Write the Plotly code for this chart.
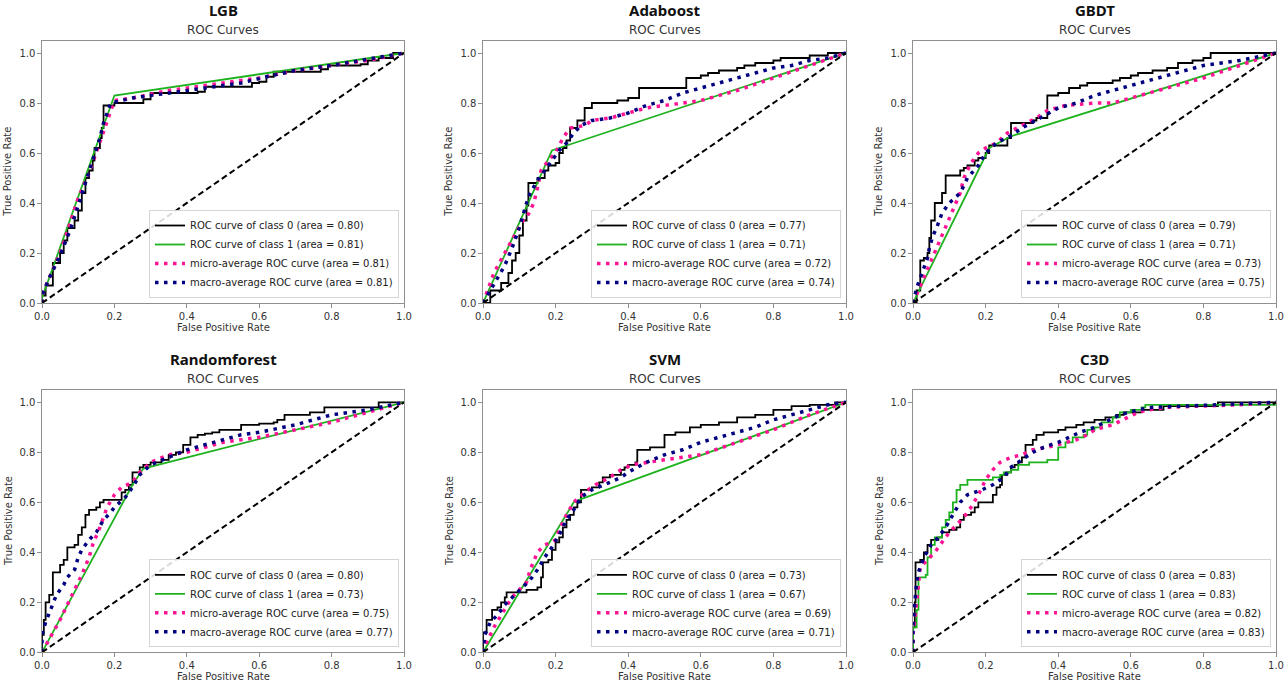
import plotly.graph_objects as go

W, H = 1288, 688

MODELS = ["LGB", "Adaboost", "GBDT", "Randomforest", "SVM", "C3D"]
AUC_CLASS0 = [0.80, 0.77, 0.79, 0.80, 0.73, 0.83]
AUC_CLASS1 = [0.81, 0.71, 0.71, 0.73, 0.67, 0.83]
AUC_MICRO = [0.81, 0.72, 0.73, 0.75, 0.69, 0.82]
AUC_MACRO = [0.81, 0.74, 0.75, 0.77, 0.71, 0.83]
AXIS_TICKS = [0.0, 0.2, 0.4, 0.6, 0.8, 1.0]

# ---------------- LGB ----------------
LGB_C0_X = [0, 0, 0.01, 0.03, 0.05, 0.06, 0.07, 0.09, 0.10, 0.11, 0.12, 0.13, 0.14, 0.145, 0.16, 0.165, 0.17, 0.20, 0.28, 0.30, 0.43, 0.45, 0.58, 0.60, 0.62, 0.64, 0.77, 0.79, 0.88, 0.90, 0.93, 0.97, 1.0]
LGB_C0_Y = [0, 0.03, 0.07, 0.16, 0.20, 0.25, 0.30, 0.33, 0.37, 0.44, 0.50, 0.53, 0.57, 0.62, 0.66, 0.70, 0.79, 0.80, 0.815, 0.84, 0.845, 0.865, 0.88, 0.885, 0.905, 0.925, 0.935, 0.95, 0.955, 0.97, 0.98, 1.0, 1.0]
LGB_C1_X = [0, 0, 0.2, 1.0]
LGB_C1_Y = [0, 0.02, 0.83, 1.0]
LGB_MI_X = [0, 0, 0.02, 0.05, 0.08, 0.10, 0.13, 0.15, 0.17, 0.19, 0.20, 0.25, 0.35, 0.50, 0.60, 0.70, 0.80, 0.90, 1.0]
LGB_MI_Y = [0, 0.03, 0.10, 0.20, 0.33, 0.42, 0.52, 0.60, 0.68, 0.77, 0.81, 0.82, 0.85, 0.88, 0.90, 0.93, 0.95, 0.97, 1.0]
LGB_MA_X = [0, 0, 0.02, 0.05, 0.08, 0.10, 0.12, 0.14, 0.16, 0.17, 0.19, 0.25, 0.35, 0.45, 0.55, 0.62, 0.70, 0.80, 0.90, 1.0]
LGB_MA_Y = [0, 0.03, 0.10, 0.19, 0.30, 0.39, 0.48, 0.58, 0.66, 0.72, 0.80, 0.82, 0.84, 0.86, 0.88, 0.905, 0.93, 0.95, 0.975, 1.0]

# ---------------- Adaboost ----------------
ADA_C0_X = [0, 0.02, 0.05, 0.07, 0.08, 0.09, 0.10, 0.11, 0.12, 0.125, 0.15, 0.17, 0.18, 0.20, 0.21, 0.22, 0.23, 0.24, 0.26, 0.28, 0.30, 0.37, 0.40, 0.43, 0.55, 0.56, 0.60, 0.62, 0.65, 0.70, 0.72, 0.75, 0.80, 0.82, 0.90, 0.95, 1.0]
ADA_C0_Y = [0, 0.05, 0.08, 0.12, 0.17, 0.20, 0.27, 0.33, 0.39, 0.48, 0.50, 0.53, 0.55, 0.56, 0.60, 0.62, 0.65, 0.70, 0.73, 0.78, 0.80, 0.81, 0.82, 0.86, 0.86, 0.90, 0.91, 0.92, 0.93, 0.94, 0.95, 0.96, 0.97, 0.98, 0.99, 1.0, 1.0]
ADA_C1_X = [0, 0.19, 0.22, 1.0]
ADA_C1_Y = [0, 0.61, 0.625, 1.0]
ADA_MI_X = [0, 0.03, 0.06, 0.09, 0.11, 0.12, 0.14, 0.15, 0.16, 0.18, 0.20, 0.22, 0.24, 0.28, 0.30, 0.35, 0.40, 0.45, 0.50, 0.56, 0.60, 0.70, 0.80, 0.90, 1.0]
ADA_MI_Y = [0, 0.12, 0.20, 0.28, 0.33, 0.34, 0.40, 0.46, 0.53, 0.57, 0.60, 0.66, 0.70, 0.71, 0.73, 0.74, 0.76, 0.78, 0.79, 0.80, 0.81, 0.85, 0.90, 0.95, 1.0]
ADA_MA_X = [0, 0.02, 0.04, 0.06, 0.08, 0.10, 0.12, 0.13, 0.15, 0.17, 0.19, 0.21, 0.23, 0.25, 0.27, 0.30, 0.35, 0.40, 0.45, 0.50, 0.55, 0.60, 0.65, 0.70, 0.75, 0.80, 0.85, 0.90, 0.95, 1.0]
ADA_MA_Y = [0, 0.05, 0.10, 0.15, 0.22, 0.30, 0.40, 0.44, 0.49, 0.53, 0.57, 0.61, 0.64, 0.68, 0.71, 0.73, 0.74, 0.76, 0.79, 0.81, 0.84, 0.86, 0.88, 0.90, 0.92, 0.94, 0.95, 0.97, 0.98, 1.0]

# ---------------- GBDT ----------------
GB_C0_X = [0, 0.01, 0.02, 0.03, 0.04, 0.045, 0.05, 0.06, 0.08, 0.09, 0.13, 0.14, 0.15, 0.17, 0.18, 0.20, 0.21, 0.26, 0.27, 0.28, 0.33, 0.34, 0.36, 0.37, 0.40, 0.43, 0.46, 0.48, 0.55, 0.57, 0.60, 0.62, 0.66, 0.70, 0.73, 0.77, 0.80, 0.82, 1.0]
GB_C0_Y = [0, 0.05, 0.17, 0.18, 0.20, 0.26, 0.33, 0.40, 0.44, 0.51, 0.53, 0.54, 0.55, 0.57, 0.58, 0.60, 0.63, 0.66, 0.72, 0.72, 0.73, 0.74, 0.74, 0.83, 0.84, 0.86, 0.87, 0.88, 0.89, 0.90, 0.91, 0.92, 0.93, 0.94, 0.96, 0.97, 0.98, 1.0, 1.0]
GB_C1_X = [0, 0.21, 0.27, 1.0]
GB_C1_Y = [0, 0.62, 0.667, 1.0]
GB_MI_X = [0, 0.03, 0.06, 0.09, 0.11, 0.13, 0.14, 0.16, 0.18, 0.20, 0.23, 0.26, 0.30, 0.34, 0.37, 0.42, 0.50, 0.55, 0.60, 0.70, 0.80, 0.90, 1.0]
GB_MI_Y = [0, 0.10, 0.20, 0.30, 0.37, 0.44, 0.50, 0.56, 0.60, 0.62, 0.64, 0.68, 0.71, 0.74, 0.77, 0.79, 0.80, 0.80, 0.82, 0.86, 0.90, 0.95, 1.0]
GB_MA_X = [0, 0.01, 0.02, 0.03, 0.04, 0.045, 0.055, 0.065, 0.08, 0.10, 0.13, 0.15, 0.18, 0.20, 0.23, 0.27, 0.30, 0.35, 0.40, 0.45, 0.50, 0.55, 0.60, 0.65, 0.70, 0.75, 0.80, 0.85, 0.90, 1.0]
GB_MA_Y = [0, 0.06, 0.10, 0.14, 0.18, 0.22, 0.27, 0.30, 0.36, 0.40, 0.44, 0.50, 0.55, 0.60, 0.64, 0.67, 0.70, 0.74, 0.78, 0.80, 0.83, 0.85, 0.87, 0.89, 0.91, 0.93, 0.95, 0.96, 0.97, 1.0]

# ---------------- Randomforest ----------------
RF_C0_X = [0, 0, 0.005, 0.01, 0.02, 0.03, 0.05, 0.06, 0.07, 0.09, 0.10, 0.11, 0.12, 0.13, 0.15, 0.16, 0.17, 0.22, 0.23, 0.24, 0.25, 0.27, 0.28, 0.30, 0.33, 0.35, 0.37, 0.39, 0.41, 0.43, 0.45, 0.47, 0.49, 0.55, 0.60, 0.64, 0.65, 0.67, 0.74, 0.78, 0.93, 1.0]
RF_C0_Y = [0, 0.07, 0.13, 0.20, 0.23, 0.32, 0.35, 0.37, 0.42, 0.43, 0.47, 0.50, 0.55, 0.57, 0.58, 0.60, 0.61, 0.64, 0.65, 0.67, 0.72, 0.74, 0.75, 0.76, 0.77, 0.79, 0.80, 0.83, 0.86, 0.87, 0.875, 0.88, 0.89, 0.91, 0.915, 0.92, 0.93, 0.95, 0.96, 0.98, 1.0, 1.0]
RF_C1_X = [0, 0.25, 0.28, 1.0]
RF_C1_Y = [0, 0.67, 0.735, 1.0]
RF_MI_X = [0, 0.02, 0.05, 0.08, 0.11, 0.13, 0.14, 0.16, 0.18, 0.20, 0.22, 0.25, 0.27, 0.30, 0.35, 0.40, 0.45, 0.50, 0.55, 0.60, 0.70, 0.80, 0.90, 1.0]
RF_MI_Y = [0, 0.05, 0.13, 0.22, 0.31, 0.38, 0.43, 0.50, 0.58, 0.63, 0.66, 0.68, 0.72, 0.76, 0.79, 0.80, 0.82, 0.84, 0.85, 0.86, 0.89, 0.92, 0.96, 1.0]
RF_MA_X = [0, 0, 0.01, 0.02, 0.04, 0.06, 0.07, 0.09, 0.10, 0.11, 0.13, 0.15, 0.17, 0.19, 0.20, 0.23, 0.25, 0.27, 0.30, 0.35, 0.40, 0.45, 0.50, 0.55, 0.60, 0.70, 0.80, 0.90, 1.0]
RF_MA_Y = [0, 0.07, 0.12, 0.16, 0.23, 0.27, 0.30, 0.33, 0.38, 0.41, 0.45, 0.48, 0.53, 0.56, 0.58, 0.62, 0.66, 0.71, 0.75, 0.78, 0.81, 0.83, 0.85, 0.87, 0.88, 0.91, 0.95, 0.97, 1.0]

# ---------------- SVM ----------------
SVM_C0_X = [0, 0, 0.01, 0.025, 0.04, 0.05, 0.06, 0.065, 0.12, 0.15, 0.16, 0.165, 0.18, 0.19, 0.20, 0.21, 0.22, 0.23, 0.24, 0.25, 0.26, 0.27, 0.30, 0.32, 0.33, 0.35, 0.38, 0.39, 0.40, 0.42, 0.425, 0.46, 0.50, 0.53, 0.57, 0.60, 0.65, 0.70, 0.75, 0.80, 0.85, 0.90, 0.97, 1.0]
SVM_C0_Y = [0, 0.08, 0.13, 0.17, 0.18, 0.20, 0.22, 0.24, 0.25, 0.26, 0.30, 0.36, 0.37, 0.41, 0.44, 0.46, 0.50, 0.53, 0.55, 0.58, 0.60, 0.65, 0.66, 0.68, 0.70, 0.71, 0.73, 0.74, 0.75, 0.76, 0.81, 0.82, 0.87, 0.88, 0.90, 0.91, 0.92, 0.94, 0.95, 0.97, 0.985, 0.99, 1.0, 1.0]
SVM_C1_X = [0, 0.25, 0.27, 1.0]
SVM_C1_Y = [0, 0.60, 0.613, 1.0]
SVM_MI_X = [0, 0.01, 0.03, 0.06, 0.08, 0.10, 0.12, 0.13, 0.14, 0.15, 0.17, 0.19, 0.20, 0.21, 0.23, 0.25, 0.28, 0.31, 0.35, 0.38, 0.41, 0.45, 0.50, 0.55, 0.60, 0.70, 0.80, 0.90, 1.0]
SVM_MI_Y = [0, 0.04, 0.10, 0.17, 0.22, 0.25, 0.28, 0.33, 0.37, 0.40, 0.43, 0.44, 0.45, 0.49, 0.55, 0.60, 0.64, 0.67, 0.70, 0.73, 0.75, 0.76, 0.77, 0.78, 0.79, 0.84, 0.89, 0.95, 1.0]
SVM_MA_X = [0, 0.005, 0.02, 0.04, 0.06, 0.08, 0.11, 0.13, 0.15, 0.17, 0.19, 0.21, 0.23, 0.25, 0.27, 0.30, 0.35, 0.38, 0.40, 0.45, 0.50, 0.55, 0.60, 0.65, 0.70, 0.75, 0.80, 0.85, 0.90, 0.95, 1.0]
SVM_MA_Y = [0, 0.07, 0.12, 0.15, 0.19, 0.22, 0.26, 0.29, 0.33, 0.38, 0.42, 0.47, 0.53, 0.57, 0.62, 0.65, 0.68, 0.70, 0.72, 0.76, 0.79, 0.81, 0.84, 0.86, 0.88, 0.90, 0.93, 0.95, 0.97, 0.99, 1.0]

# ---------------- C3D ----------------
C3D_C0_X = [0, 0, 0.005, 0.007, 0.02, 0.03, 0.04, 0.05, 0.07, 0.08, 0.10, 0.12, 0.13, 0.14, 0.16, 0.17, 0.18, 0.22, 0.23, 0.24, 0.245, 0.26, 0.27, 0.28, 0.29, 0.30, 0.31, 0.33, 0.34, 0.36, 0.40, 0.42, 0.45, 0.47, 0.50, 0.53, 0.56, 0.58, 0.63, 0.69, 0.84, 1.0]
C3D_C0_Y = [0, 0.10, 0.20, 0.36, 0.37, 0.40, 0.43, 0.45, 0.46, 0.48, 0.49, 0.50, 0.53, 0.55, 0.56, 0.58, 0.60, 0.63, 0.66, 0.67, 0.71, 0.72, 0.74, 0.75, 0.76, 0.78, 0.83, 0.85, 0.87, 0.88, 0.89, 0.90, 0.91, 0.92, 0.93, 0.94, 0.95, 0.96, 0.97, 0.985, 1.0, 1.0]
C3D_C1_X = [0, 0, 0.01, 0.015, 0.035, 0.04, 0.05, 0.06, 0.08, 0.09, 0.10, 0.11, 0.12, 0.13, 0.15, 0.22, 0.24, 0.25, 0.27, 0.29, 0.32, 0.37, 0.40, 0.42, 0.44, 0.47, 0.48, 0.50, 0.52, 0.55, 0.57, 0.60, 0.63, 0.64, 1.0]
C3D_C1_Y = [0, 0.10, 0.17, 0.30, 0.31, 0.38, 0.43, 0.46, 0.50, 0.53, 0.56, 0.60, 0.65, 0.67, 0.69, 0.70, 0.71, 0.72, 0.73, 0.75, 0.76, 0.77, 0.82, 0.84, 0.86, 0.87, 0.89, 0.90, 0.92, 0.94, 0.96, 0.97, 0.98, 0.99, 1.0]
C3D_MI_X = [0, 0, 0.005, 0.01, 0.015, 0.02, 0.04, 0.06, 0.08, 0.10, 0.12, 0.14, 0.16, 0.18, 0.20, 0.22, 0.24, 0.27, 0.30, 0.33, 0.37, 0.40, 0.45, 0.48, 0.50, 0.55, 0.58, 0.62, 0.65, 0.70, 0.80, 0.90, 1.0]
C3D_MI_Y = [0, 0.08, 0.13, 0.20, 0.30, 0.34, 0.37, 0.40, 0.44, 0.48, 0.51, 0.54, 0.58, 0.63, 0.69, 0.73, 0.76, 0.78, 0.79, 0.81, 0.82, 0.83, 0.85, 0.87, 0.89, 0.91, 0.93, 0.96, 0.97, 0.98, 0.985, 0.99, 1.0]
C3D_MA_X = [0, 0, 0.005, 0.01, 0.015, 0.03, 0.05, 0.07, 0.09, 0.11, 0.13, 0.15, 0.17, 0.19, 0.22, 0.25, 0.27, 0.30, 0.33, 0.36, 0.40, 0.43, 0.46, 0.50, 0.53, 0.57, 0.62, 0.66, 0.75, 0.85, 1.0]
C3D_MA_Y = [0, 0.10, 0.20, 0.28, 0.32, 0.38, 0.43, 0.46, 0.50, 0.55, 0.60, 0.63, 0.64, 0.65, 0.67, 0.70, 0.74, 0.77, 0.80, 0.82, 0.84, 0.86, 0.88, 0.90, 0.92, 0.95, 0.97, 0.98, 0.985, 0.99, 1.0]

DIAG_X = [0, 1]
DIAG_Y = [0, 1]

CURVES = [
    (LGB_C0_X, LGB_C0_Y, LGB_C1_X, LGB_C1_Y, LGB_MI_X, LGB_MI_Y, LGB_MA_X, LGB_MA_Y),
    (ADA_C0_X, ADA_C0_Y, ADA_C1_X, ADA_C1_Y, ADA_MI_X, ADA_MI_Y, ADA_MA_X, ADA_MA_Y),
    (GB_C0_X, GB_C0_Y, GB_C1_X, GB_C1_Y, GB_MI_X, GB_MI_Y, GB_MA_X, GB_MA_Y),
    (RF_C0_X, RF_C0_Y, RF_C1_X, RF_C1_Y, RF_MI_X, RF_MI_Y, RF_MA_X, RF_MA_Y),
    (SVM_C0_X, SVM_C0_Y, SVM_C1_X, SVM_C1_Y, SVM_MI_X, SVM_MI_Y, SVM_MA_X, SVM_MA_Y),
    (C3D_C0_X, C3D_C0_Y, C3D_C1_X, C3D_C1_Y, C3D_MI_X, C3D_MI_Y, C3D_MA_X, C3D_MA_Y),
]
C1_SHAPE = ["linear", "linear", "linear", "linear", "linear", "hv"]

# ---------------- layout geometry (pixels) ----------------
COL_PX = [(42, 404), (483, 846), (913, 1276)]
ROW_PX = [(40.5, 303), (389.8, 652.3)]  # top (y=1.05), bottom (y=0)

FONT = "DejaVu Sans"
FRAME = "#8f8f8f"
TEXTC = "#333333"

fig = go.Figure()
annotations = []
layout_axes = {}

for i, model in enumerate(MODELS):
    r, c = divmod(i, 3)
    n = i + 1
    xname = "x" if n == 1 else f"x{n}"
    yname = "y" if n == 1 else f"y{n}"
    lname = "legend" if n == 1 else f"legend{n}"
    x0, x1 = COL_PX[c]
    yt, yb = ROW_PX[r]
    c0x, c0y, c1x, c1y, mix, miy, max_, may = CURVES[i]

    fig.add_trace(go.Scatter(x=c0x, y=c0y, mode="lines", line=dict(color="black", width=1.8, shape="hv"),
                             name=f"ROC curve of class 0 (area = {AUC_CLASS0[i]:.2f})",
                             xaxis=xname, yaxis=yname, legend=lname))
    fig.add_trace(go.Scatter(x=c1x, y=c1y, mode="lines", line=dict(color="#1fb21f", width=1.8, shape=C1_SHAPE[i]),
                             name=f"ROC curve of class 1 (area = {AUC_CLASS1[i]:.2f})",
                             xaxis=xname, yaxis=yname, legend=lname))
    fig.add_trace(go.Scatter(x=mix, y=miy, mode="lines", line=dict(color="deeppink", width=3.5, dash="3.5px,5.5px"),
                             name=f"micro-average ROC curve (area = {AUC_MICRO[i]:.2f})",
                             xaxis=xname, yaxis=yname, legend=lname))
    fig.add_trace(go.Scatter(x=max_, y=may, mode="lines", line=dict(color="navy", width=3.5, dash="3.5px,5.5px"),
                             name=f"macro-average ROC curve (area = {AUC_MACRO[i]:.2f})",
                             xaxis=xname, yaxis=yname, legend=lname))
    fig.add_trace(go.Scatter(x=DIAG_X, y=DIAG_Y, mode="lines", line=dict(color="black", width=2, dash="6px,3.5px"),
                             showlegend=False, hoverinfo="skip", xaxis=xname, yaxis=yname))

    axis_common = dict(showline=True, mirror=True, linecolor=FRAME, linewidth=1.3,
                       ticks="outside", ticklen=3.5, tickcolor=FRAME, tickwidth=1,
                       tickfont=dict(family=FONT, size=10, color=TEXTC),
                       showgrid=False, zeroline=False, tickvals=AXIS_TICKS,
                       ticktext=[f"{v:.1f}" for v in AXIS_TICKS], automargin=False)
    layout_axes["xaxis" if n == 1 else f"xaxis{n}"] = dict(
        domain=[x0 / W, x1 / W], range=[0, 1], anchor=yname, **axis_common)
    layout_axes["yaxis" if n == 1 else f"yaxis{n}"] = dict(
        domain=[1 - yb / H, 1 - yt / H], range=[0, 1.05], anchor=xname, **axis_common)

    layout_axes[lname] = dict(
        x=(x1 - 5) / W, y=1 - (yb - 5) / H, xanchor="right", yanchor="bottom",
        bgcolor="rgba(255,255,255,0.85)", bordercolor="#d5d5d5", borderwidth=1,
        font=dict(family=FONT, size=10, color="#222222"), itemwidth=30, tracegroupgap=0)

    xc = (x0 + x1) / 2 / W
    annotations.append(dict(text=f"<b>{model}</b>", x=xc, y=1 - (yt - 30.5) / H, xref="paper", yref="paper",
                            showarrow=False, xanchor="center", yanchor="middle",
                            font=dict(family="Noto Sans", size=15, color="#111111")))
    annotations.append(dict(text="ROC Curves", x=xc, y=1 - (yt - 10.5) / H, xref="paper", yref="paper",
                            showarrow=False, xanchor="center", yanchor="middle",
                            font=dict(family=FONT, size=12, color=TEXTC)))
    annotations.append(dict(text="False Positive Rate", x=xc, y=1 - (yb + 24) / H, xref="paper", yref="paper",
                            showarrow=False, xanchor="center", yanchor="middle",
                            font=dict(family=FONT, size=10, color=TEXTC)))
    annotations.append(dict(text="True Positive Rate", x=(x0 - 34) / W, y=1 - (yt + yb) / 2 / H,
                            xref="paper", yref="paper", showarrow=False, textangle=-90,
                            xanchor="center", yanchor="middle",
                            font=dict(family=FONT, size=10, color=TEXTC)))

fig.update_layout(
    width=W, height=H, margin=dict(l=0, r=0, t=0, b=0, pad=0),
    paper_bgcolor="white", plot_bgcolor="white",
    showlegend=True, annotations=annotations, **layout_axes)

fig.write_html("out.html", config={"displayModeBar": False},
               post_script="document.body.style.margin='0';document.body.style.overflow='hidden';")
